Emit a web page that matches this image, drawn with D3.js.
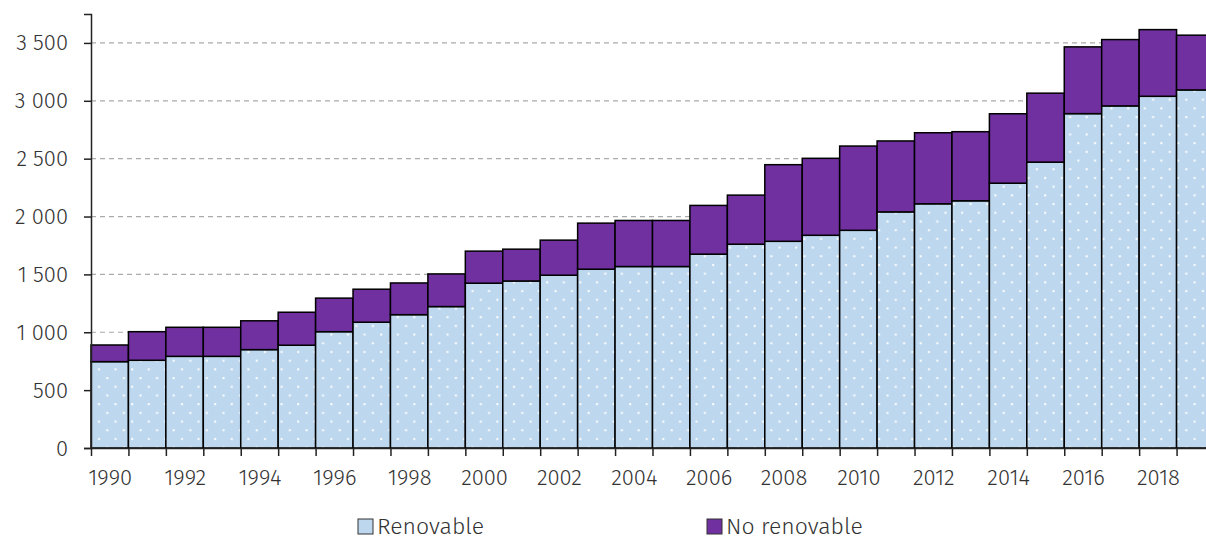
<!DOCTYPE html>
<html>
<head>
<meta charset="utf-8">
<script src="https://cdn.jsdelivr.net/npm/d3@7"></script>
<style>
  body { margin: 0; background: #fff; }
  svg { display: block; font-family: "Fira Sans", "Noto Sans", sans-serif; font-weight: 300; }
</style>
</head>
<body>
<svg class="chart" width="1206" height="538"></svg>
<script>
const years = [1990, 1991, 1992, 1993, 1994, 1995, 1996, 1997, 1998, 1999,
  2000, 2001, 2002, 2003, 2004, 2005, 2006, 2007, 2008, 2009,
  2010, 2011, 2012, 2013, 2014, 2015, 2016, 2017, 2018, 2019];
const renovable = [746, 758, 792, 792, 850, 888, 1005, 1087, 1152, 1222,
  1424, 1443, 1493, 1545, 1568, 1568, 1675, 1761, 1786, 1838,
  1881, 2040, 2110, 2136, 2288, 2470, 2889, 2956, 3039, 3094];
const noRenovable = [144, 247, 251, 251, 249, 285, 290, 285, 274, 282,
  277, 275, 303, 398, 398, 398, 421, 424, 662, 665,
  728, 613, 614, 597, 600, 596, 577, 573, 576, 473];
const yTicks = [0, 500, 1000, 1500, 2000, 2500, 3000, 3500];
const xLabels = [1990, 1992, 1994, 1996, 1998, 2000, 2002, 2004, 2006, 2008,
  2010, 2012, 2014, 2016, 2018];
const series = [`Renovable`, `No renovable`];
const colors = [`#bdd7ee`, `#7030a0`];

const svg = d3.select(`.chart`);
const left = 91, bottom = 448;

const x = d3.scaleLinear().domain([1990, 2020]).range([left, 1214]);
const y = d3.scaleLinear().domain([0, 3750]).range([bottom, 14]);

const fmt = d3.formatLocale({decimal: `,`, thousands: ` `, grouping: [3], currency: [``, ``]}).format(`,d`);

// dotted fill
const defs = svg.append(`defs`);
const pat = defs.append(`pattern`)
  .attr(`id`, `dots`)
  .attr(`patternUnits`, `userSpaceOnUse`)
  .attr(`width`, 16.6)
  .attr(`height`, 17.4)
  .attr(`x`, left);
pat.append(`rect`).attr(`width`, 16.6).attr(`height`, 17.4).attr(`fill`, colors[0]);
pat.append(`rect`).attr(`x`, 7).attr(`y`, 3).attr(`width`, 2).attr(`height`, 2).attr(`fill`, `#fff`);
pat.append(`rect`).attr(`x`, 15.3).attr(`y`, 11.7).attr(`width`, 2).attr(`height`, 2).attr(`fill`, `#fff`);
pat.append(`rect`).attr(`x`, -1.3).attr(`y`, 11.7).attr(`width`, 2).attr(`height`, 2).attr(`fill`, `#fff`);

// grid
svg.append(`g`)
  .selectAll(`line`)
  .data(yTicks.filter(d => d > 0))
  .enter().append(`line`)
  .attr(`x1`, left).attr(`x2`, 1206)
  .attr(`y1`, d => y(d)).attr(`y2`, d => y(d))
  .attr(`stroke`, `#aaa`)
  .attr(`stroke-width`, 1.2)
  .attr(`stroke-dasharray`, `5,4`);

// bars
const bars = svg.append(`g`)
  .selectAll(`g`)
  .data(years)
  .enter().append(`g`);

bars.append(`rect`)
  .attr(`x`, d => x(d))
  .attr(`width`, d => x(d + 1) - x(d))
  .attr(`y`, (d, i) => y(renovable[i]))
  .attr(`height`, (d, i) => bottom - y(renovable[i]))
  .attr(`fill`, `url(#dots)`)
  .attr(`stroke`, `#000`)
  .attr(`stroke-width`, 1.5);

bars.append(`rect`)
  .attr(`x`, d => x(d))
  .attr(`width`, d => x(d + 1) - x(d))
  .attr(`y`, (d, i) => y(renovable[i] + noRenovable[i]))
  .attr(`height`, (d, i) => y(renovable[i]) - y(renovable[i] + noRenovable[i]))
  .attr(`fill`, colors[1])
  .attr(`stroke`, `#000`)
  .attr(`stroke-width`, 1.5);

// axes
const yAxis = svg.append(`g`)
  .attr(`transform`, `translate(${left},0)`)
  .call(d3.axisLeft(y).tickValues(yTicks).tickFormat(fmt).tickSize(7).tickPadding(16));

// tick marks on year boundaries
const xAxis = svg.append(`g`)
  .attr(`transform`, `translate(0,${bottom})`)
  .call(d3.axisBottom(x).tickValues(d3.range(1990, 2020)).tickSize(8).tickFormat(``));

// year labels centred under their bars
const xLabelAxis = svg.append(`g`)
  .attr(`transform`, `translate(0,${bottom})`)
  .call(d3.axisBottom(x).tickValues(xLabels.map(d => d + 0.5)).tickSize(8).tickPadding(13)
    .tickFormat(d => Math.floor(d)));
xLabelAxis.select(`.domain`).remove();
xLabelAxis.selectAll(`.tick line`).remove();

[yAxis, xAxis].forEach(a => {
  a.select(`.domain`).attr(`stroke`, `#222`).attr(`stroke-width`, 1.5);
  a.selectAll(`.tick line`).attr(`stroke`, `#222`).attr(`stroke-width`, 1.5);
});
[yAxis, xLabelAxis].forEach(a => {
  a.selectAll(`text`).attr(`font-size`, `22px`).attr(`fill`, `#333`)
    .attr(`font-family`, `"Fira Sans", "Noto Sans", sans-serif`).attr(`font-weight`, 300);
});
xAxis.select(`.domain`).attr(`d`, `M${left},0.5H1206`);

// legend
const legend = svg.append(`g`)
  .selectAll(`g`)
  .data(series)
  .enter().append(`g`)
  .attr(`transform`, (d, i) => `translate(${[358, 707][i]},519)`);

legend.append(`rect`)
  .attr(`width`, 15).attr(`height`, 15)
  .attr(`fill`, (d, i) => colors[i])
  .attr(`stroke`, `#333`)
  .attr(`stroke-width`, 1);

legend.append(`text`)
  .attr(`x`, 19)
  .attr(`y`, 15)
  .attr(`font-size`, `23px`)
  .attr(`fill`, `#333`)
  .text(d => d);
</script>
</body>
</html>
